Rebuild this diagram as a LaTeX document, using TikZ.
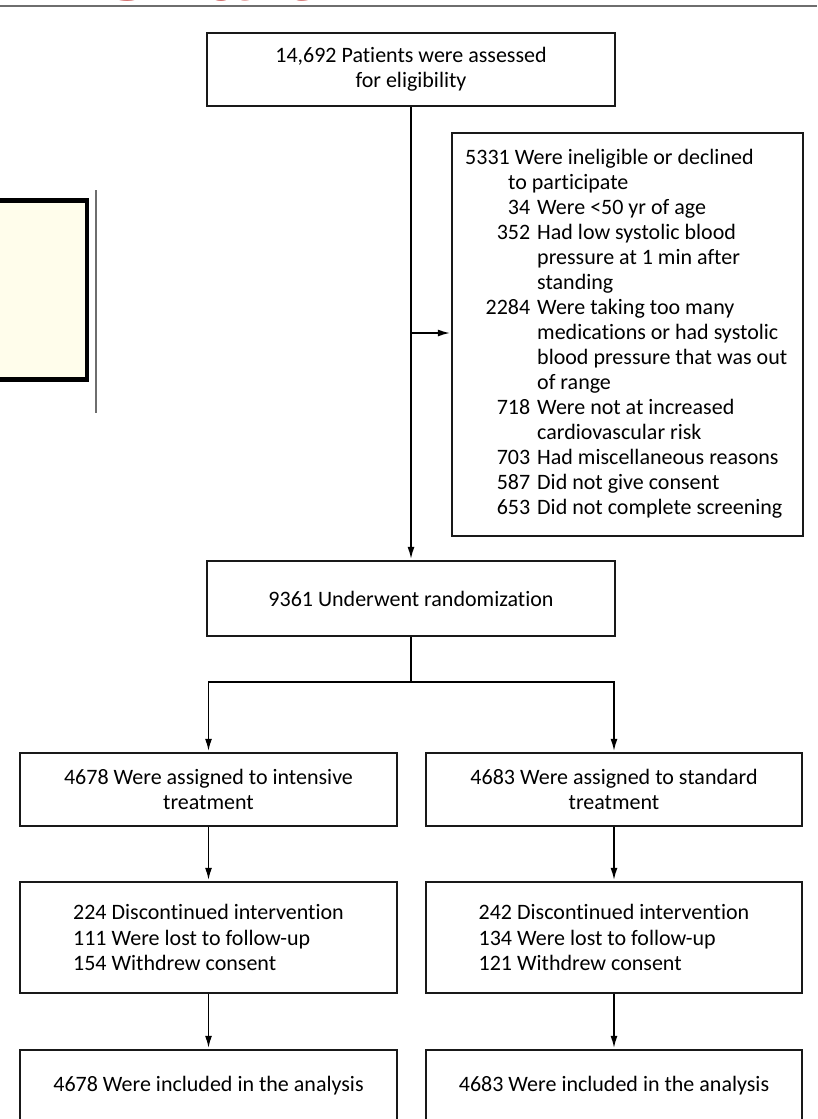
\documentclass[tikz,border=0pt]{standalone}
\usepackage{fontspec}
\setmainfont{Carlito}[Ligatures=NoCommon]
\newfontfamily\titlefont{Liberation Sans}
\usetikzlibrary{arrows.meta}
\definecolor{titlered}{RGB}{200,80,78}
\definecolor{noteyellow}{RGB}{255,253,235}
\definecolor{rulegray}{RGB}{110,110,110}
\newcommand\boxfont{\fontsize{22}{25.3}\selectfont}
\newcommand\exfont{\fontsize{22}{25.07}\selectfont}
\begin{document}
\begin{tikzpicture}[x=1pt,y=-1pt,
  flowbox/.style={draw=black!90, line width=1.4pt, inner sep=0pt, align=center, font=\boxfont, fill=white},
  flowlist/.style={flowbox, align=left},
  arr/.style={line width=1.4pt, -{Latex[length=12pt,width=7pt]}, shorten >=1.5pt},
  conn/.style={line width=1.4pt},
  exline/.style={anchor=base west, inner sep=0pt, font=\exfont},
]
\useasboundingbox (0,0) rectangle (817,1119);
\clip (0,0) rectangle (817,1119);

% clipped title and rule
\node[font=\titlefont\bfseries\fontsize{83}{90}\selectfont, text=titlered, anchor=base east, inner sep=0pt] (title) at (312,0) {Flow Chart};
\draw[rulegray, line width=1.6pt] (0,6) -- (817,6);

% side note box and rule
\draw[line width=4.5pt, fill=noteyellow] (-10,200.5) rectangle (87,379.5);
\draw[rulegray, line width=1.3pt] (96,190) -- (96,413);

% main boxes
\node[flowbox, minimum width=408pt, minimum height=73pt] (top) at (411,69.5) {14,692 Patients were assessed\\for eligibility};
\node[draw=black!90, line width=1.4pt, minimum width=351pt, minimum height=403pt, inner sep=0pt] (excl) at (627.5,334.5) {};

\node[exline] (ex1) at (465,164) {5331 Were ineligible or declined};
\node[exline] (ex2) at (508,189.07) {to participate};
\node[exline] (ex3) at (537,214.14) {\llap{34\hspace{7pt}}Were <50 yr of age};
\node[exline] (ex4) at (537,239.21) {\llap{352\hspace{7pt}}Had low systolic blood};
\node[exline] (ex5) at (537,264.28) {pressure at 1 min after};
\node[exline] (ex6) at (537,289.35) {standing};
\node[exline] (ex7) at (537,314.42) {\llap{2284\hspace{7pt}}Were taking too many};
\node[exline] (ex8) at (537,339.49) {medications or had systolic};
\node[exline] (ex9) at (537,364.56) {blood pressure that was out};
\node[exline] (ex10) at (537,389.63) {of range};
\node[exline] (ex11) at (537,414.70) {\llap{718\hspace{7pt}}Were not at increased};
\node[exline] (ex12) at (537,439.77) {cardiovascular risk};
\node[exline] (ex13) at (537,464.84) {\llap{703\hspace{7pt}}Had miscellaneous reasons};
\node[exline] (ex14) at (537,489.91) {\llap{587\hspace{7pt}}Did not give consent};
\node[exline] (ex15) at (537,514.98) {\llap{653\hspace{7pt}}Did not complete screening};

\node[flowbox, minimum width=408pt, minimum height=75pt] (rand) at (411,598.5) {9361 Underwent randomization};

\node[flowbox, minimum width=377pt, minimum height=73pt] (a1) at (208.5,789.5) {4678 Were assigned to intensive\\treatment};
\node[flowbox, minimum width=376pt, minimum height=73pt] (a2) at (614,789.5) {4683 Were assigned to standard\\treatment};

\node[flowlist, minimum width=377pt, minimum height=111pt] (d1) at (208.5,937.5) {224 Discontinued intervention\\111 Were lost to follow-up\\154 Withdrew consent};
\node[flowlist, minimum width=376pt, minimum height=111pt] (d2) at (614,937.5) {242 Discontinued intervention\\134 Were lost to follow-up\\121 Withdrew consent};

\node[flowbox, minimum width=377pt, minimum height=72pt] (i1) at (208.5,1086) {4678 Were included in the analysis};
\node[flowbox, minimum width=376pt, minimum height=72pt] (i2) at (614,1086) {4683 Were included in the analysis};

% connectors
\draw[arr] (top.south) -- (rand.north);
\coordinate (br) at (411,333);
\draw[arr] (br) -- (br -| excl.west);
\coordinate (split) at (411,682);
\draw[conn] (rand.south) -- (split);
\draw[arr] (split) -| (a1.north);
\draw[arr] (split) -| (a2.north);
\draw[arr] (a1.south) -- (d1.north);
\draw[arr] (a2.south) -- (d2.north);
\draw[arr] (d1.south) -- (i1.north);
\draw[arr] (d2.south) -- (i2.north);
\end{tikzpicture}
\end{document}
